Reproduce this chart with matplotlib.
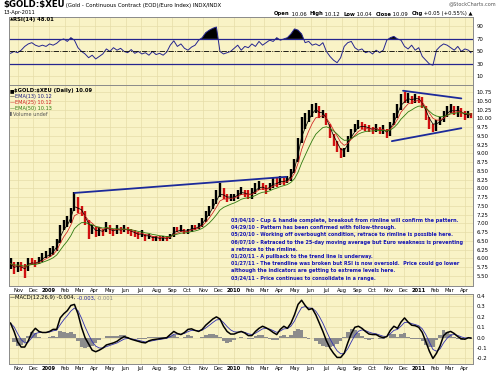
import matplotlib
matplotlib.use('Agg')
import matplotlib.pyplot as plt
import matplotlib.dates as mdates
import numpy as np
import pandas as pd

W, H, DPI = 500, 374, 100

# ---------------- data (weekly) ----------------
week_dates = list(pd.date_range('2008-10-17', '2011-04-08', freq='W-FRI')) + [pd.Timestamp('2011-04-13')]

close = [
    5.85, 5.65, 5.80, 5.75, 5.65, 5.95, 5.90, 5.85, 5.95, 6.05, 6.10,          # Oct-Dec 2008
    6.15, 6.25, 6.45, 6.85, 7.00, 7.05, 7.35, 7.75, 7.40,                     # Jan-Feb 2009
    7.35, 7.05, 6.80, 6.85, 6.70, 6.80, 6.75, 6.95,                           # Mar-Apr
    6.80, 6.75, 6.85, 6.80, 6.85, 6.80, 6.75, 6.70, 6.65,                     # May-Jun
    6.70, 6.60, 6.65, 6.55, 6.60, 6.55, 6.60, 6.55, 6.65,                     # Jul-Aug
    6.85, 6.80, 6.85, 6.75, 6.80, 6.90, 6.85, 6.95, 7.05,                     # Sep-Oct
    7.25, 7.40, 7.60, 7.80, 8.00, 7.80, 7.70, 7.75,                           # Nov-Dec
    7.75, 7.85, 7.95, 7.85, 7.80, 7.85, 8.00, 8.10, 8.05,                     # Jan-Feb 2010
    7.95, 8.05, 8.20, 8.15, 8.25, 8.20, 8.25, 8.45, 8.75,                     # Mar-Apr
    9.30, 9.90, 9.95, 10.15, 10.30, 10.35, 10.10, 10.15,                      # May-Jun
    9.85, 9.55, 9.30, 9.15, 8.95, 9.05, 9.40, 9.65, 9.75,                     # Jul-Aug
    9.85, 9.80, 9.75, 9.70, 9.65, 9.75, 9.60, 9.70, 9.55,                     # Sep-Oct
    9.80, 10.05, 10.30, 10.60, 10.55, 10.65, 10.50, 10.60, 10.55,             # Nov-Dec
    10.35, 10.05, 9.80, 9.70, 9.85, 9.95, 10.10, 10.25,                       # Jan-Feb 2011
    10.30, 10.20, 10.25, 10.15, 10.05, 10.10, 10.09,                          # Mar-Apr
]
high = [
    6.00, 5.90, 5.90, 5.90, 5.85, 6.00, 6.00, 5.95, 6.05, 6.15, 6.20,
    6.30, 6.35, 6.55, 6.95, 7.10, 7.20, 7.45, 7.90, 7.75,
    7.50, 7.35, 7.10, 6.95, 6.90, 6.90, 6.85, 7.05,
    6.95, 6.85, 6.95, 6.90, 6.95, 6.90, 6.85, 6.80, 6.75,
    6.80, 6.70, 6.70, 6.65, 6.65, 6.65, 6.65, 6.65, 6.70,
    6.90, 6.90, 6.95, 6.85, 6.85, 6.95, 6.95, 7.00, 7.15,
    7.35, 7.50, 7.70, 7.95, 8.15, 8.00, 7.85, 7.85,
    7.85, 7.95, 8.05, 7.95, 7.95, 8.00, 8.15, 8.20, 8.15,
    8.10, 8.15, 8.30, 8.30, 8.35, 8.30, 8.35, 8.55, 8.85,
    9.45, 10.05, 10.15, 10.25, 10.40, 10.44, 10.35, 10.25,
    10.15, 9.85, 9.55, 9.35, 9.15, 9.15, 9.50, 9.70, 9.85,
    9.95, 9.90, 9.85, 9.80, 9.75, 9.85, 9.75, 9.80, 9.70,
    9.90, 10.15, 10.40, 10.70, 10.75, 10.72, 10.65, 10.70, 10.65,
    10.60, 10.35, 10.05, 9.85, 9.95, 10.05, 10.20, 10.35,
    10.40, 10.35, 10.35, 10.30, 10.20, 10.20, 10.15,
]
low = [
    5.70, 5.55, 5.60, 5.65, 5.44, 5.65, 5.80, 5.75, 5.85, 5.90, 6.00,
    6.05, 6.10, 6.20, 6.45, 6.80, 6.90, 7.00, 7.35, 7.30,
    7.20, 6.95, 6.55, 6.70, 6.60, 6.65, 6.65, 6.75,
    6.70, 6.65, 6.70, 6.70, 6.75, 6.70, 6.65, 6.60, 6.55,
    6.60, 6.50, 6.55, 6.50, 6.50, 6.50, 6.50, 6.50, 6.55,
    6.60, 6.75, 6.75, 6.70, 6.70, 6.75, 6.80, 6.85, 6.90,
    7.05, 7.20, 7.40, 7.55, 7.75, 7.70, 7.60, 7.65,
    7.65, 7.70, 7.80, 7.75, 7.70, 7.70, 7.85, 7.95, 7.95,
    7.85, 7.95, 8.00, 8.05, 8.10, 8.10, 8.15, 8.20, 8.45,
    8.75, 9.30, 9.70, 9.90, 10.05, 10.15, 10.00, 10.00,
    9.80, 9.45, 9.20, 9.05, 8.88, 8.90, 9.05, 9.40, 9.60,
    9.70, 9.70, 9.65, 9.60, 9.55, 9.60, 9.55, 9.55, 9.45,
    9.50, 9.80, 10.00, 10.25, 10.45, 10.45, 10.40, 10.45, 10.45,
    10.30, 9.95, 9.70, 9.60, 9.65, 9.80, 9.90, 10.05,
    10.15, 10.10, 10.05, 10.05, 9.95, 10.00, 10.00,
]
rsi = [
    47, 50, 48, 52, 58, 62, 64, 60, 58, 60, 58, 62, 60, 63, 68, 70, 66, 72, 68,
    56, 50, 46, 40, 44, 38, 42, 46, 54, 50, 56, 52, 55, 50, 48, 53, 47, 50, 46,
    48, 44, 50, 45, 47, 44, 49, 60, 67, 58, 62, 55, 52, 57, 60, 68,
    72, 80, 84, 87, 89, 50, 46, 48, 50, 55, 60, 52, 58, 56, 62, 58, 66, 60, 64,
    68, 66, 72, 68, 70, 72, 78, 86, 84, 78, 64, 66, 60, 62, 59, 64,
    50, 42, 36, 32, 40, 58, 64, 66, 56, 52, 54, 48, 50, 46, 52, 48,
    52, 68, 72, 74, 70, 68, 58, 54, 60, 52, 56, 42, 36, 30, 28,
    52, 58, 62, 60, 56, 52, 58, 50, 54, 52, 48,
]
macd = [
    0.14, 0.06, -0.04, -0.09, -0.09, -0.03, 0.05, 0.09, 0.06, 0.05, 0.05,
    0.06, 0.08, 0.08, 0.19, 0.23, 0.26, 0.31, 0.32, 0.23,
    0.10, 0.0, -0.06, -0.12, -0.135, -0.12, -0.10, -0.07,
    -0.06, -0.05, -0.035, -0.01, 0.01, 0.0, -0.015, -0.025, -0.035,
    -0.045, -0.05, -0.03, -0.02, -0.015, -0.01, -0.005, 0.0, 0.03,
    0.06, 0.04, 0.03, 0.05, 0.08, 0.085, 0.07, 0.06, 0.08,
    0.12, 0.15, 0.18, 0.20, 0.18, 0.11, 0.06, 0.035,
    0.035, 0.05, 0.06, 0.045, 0.02, 0.02, 0.06, 0.09, 0.11,
    0.095, 0.075, 0.05, 0.03, 0.08, 0.11, 0.09, 0.14, 0.22,
    0.32, 0.36, 0.31, 0.27, 0.28, 0.22, 0.14, 0.06,
    -0.03, -0.10, -0.15, -0.19, -0.19, -0.15, -0.05, 0.04, 0.10,
    0.11, 0.09, 0.06, 0.035, 0.03, 0.03, 0.01, 0.0, 0.01,
    0.07, 0.11, 0.09, 0.15, 0.19, 0.15, 0.12, 0.115, 0.10,
    0.05, -0.04, -0.13, -0.20, -0.15, -0.08, 0.02, 0.05,
    0.06, 0.04, 0.01, -0.01, -0.015, 0.0, -0.004,
]

rim_dates = ['2009-02-20', '2010-04-14']
rim_prices = [7.87, 8.33]
upper_dates = ['2010-11-30', '2011-03-25']
upper_prices = [10.79, 10.57]
lower_dates = ['2010-11-08', '2011-03-25']
lower_prices = [9.35, 9.72]

notes = [
    "03/04/10 - Cup & handle complete, breakout from rimline will confirm the pattern.",
    "04/29/10 - Pattern has been confirmed with follow-through.",
    "05/20/10 - Working off overbought condition, retrace to rimline is possible here.",
    "06/07/10 - Retraced to the 25-day moving average but Euro weakness is preventing",
    "a retrace to the rimline.",
    "01/20/11 - A pullback to the trend line is underway.",
    "01/27/11 - The trendline was broken but RSI is now oversold.  Price could go lower",
    "although the indicators are getting to extreme levels here.",
    "03/24/11 - Price continues to consolidate in a range.",
]

price_ticks = [5.50, 5.75, 6.00, 6.25, 6.50, 6.75, 7.00, 7.25, 7.50, 7.75, 8.00, 8.25,
               8.50, 8.75, 9.00, 9.25, 9.50, 9.75, 10.00, 10.25, 10.50, 10.75]
rsi_ticks = [10, 30, 50, 70, 90]
macd_ticks = [-0.2, -0.1, 0.0, 0.1, 0.2, 0.3, 0.4]

assert len(close) == len(high) == len(low) == len(rsi) == len(macd) == len(week_dates)

# ---------------- derived indicators ----------------
def ema(vals, span_days):
    a_d = 2.0 / (span_days + 1)
    a_w = 1 - (1 - a_d) ** 5          # weekly sampling of a daily EMA
    return pd.Series(vals, dtype=float).ewm(alpha=a_w, adjust=False).mean().values

ema13 = ema(close, 13)
ema25 = ema(close, 25)
ema50 = ema(close, 50)
macd_a = np.array(macd, dtype=float)
signal = pd.Series(macd_a).ewm(alpha=0.45, adjust=False).mean().values
hist = macd_a - signal

xd = mdates.date2num(pd.DatetimeIndex(week_dates).to_pydatetime())

# ---------------- figure ----------------
plt.rcParams['font.family'] = ['DejaVu Sans']
fig = plt.figure(figsize=(W / DPI, H / DPI), dpi=DPI)
fig.patch.set_facecolor('white')

BG = '#F9F3C6'
GRID = '#E6DDA8'
FRAME = '#8A8A8A'
NAVY = '#25258F'

def px_axes(left, top, right, bottom):
    return fig.add_axes([left / W, 1 - bottom / H, (right - left) / W, (bottom - top) / H])

ax_rsi = px_axes(9, 17, 473, 85)
ax_pr = px_axes(9, 85, 473, 286)
ax_m = px_axes(9, 294, 473, 364)

x0 = mdates.date2num(pd.Timestamp('2008-10-14'))
x1 = mdates.date2num(pd.Timestamp('2011-04-17'))

months = pd.date_range('2008-11-01', '2011-04-01', freq='MS')
mnum = mdates.date2num(months.to_pydatetime())
mlab = [str(m.year) if m.month == 1 else m.strftime('%b') for m in months]

for ax in (ax_rsi, ax_pr, ax_m):
    ax.set_facecolor(BG)
    ax.set_xlim(x0, x1)
    for s in ax.spines.values():
        s.set_color(FRAME)
        s.set_linewidth(0.7)
    ax.yaxis.tick_right()
    ax.tick_params(axis='both', length=0, labelsize=3.9, pad=2.5, colors='black')
    ax.set_xticks(mnum)
    ax.grid(True, color=GRID, lw=0.5)
    ax.set_axisbelow(True)

ax_rsi.set_xticklabels([])
for ax in (ax_pr, ax_m):
    ax.set_xticklabels(mlab)
    for t, m in zip(ax.get_xticklabels(), months):
        t.set_fontsize(3.7)
        if m.month == 1:
            t.set_fontweight('bold')
    ax.tick_params(axis='x', pad=1.5)

# ---- RSI panel ----
ax_rsi.set_ylim(-3.6, 105)
ax_rsi.set_yticks(rsi_ticks)
ax_rsi.plot(xd, rsi, color=NAVY, lw=0.7)
r = np.array(rsi, dtype=float)
ax_rsi.fill_between(xd, 70, r, where=r > 70, interpolate=True, color='black', lw=0)
ax_rsi.axhline(70, color=NAVY, lw=0.9)
ax_rsi.axhline(30, color=NAVY, lw=0.9)
ax_rsi.axhline(50, color='black', lw=0.6, ls='-.')

# ---- price panel ----
ax_pr.set_ylim(5.211, 10.954)
ax_pr.set_yticks(price_ticks)
ax_pr.set_yticklabels(['%.2f' % v for v in price_ticks])
prev = [close[0]] + close[:-1]
cols = ['black' if c >= p else '#D01010' for c, p in zip(close, prev)]
ax_pr.vlines(xd, low, high, colors=cols, lw=1.7)
ax_pr.plot(xd, ema13, color='black', lw=0.55)
ax_pr.plot(xd, ema25, color='#D02020', lw=0.55)
ax_pr.plot(xd, ema50, color='#2F7A10', lw=0.6)
for d, p in ((rim_dates, rim_prices), (upper_dates, upper_prices), (lower_dates, lower_prices)):
    ax_pr.plot(mdates.date2num(pd.DatetimeIndex(d).to_pydatetime()), p, color='#1C2A9A', lw=1.3,
               solid_capstyle='round')

# ---- MACD panel ----
ax_m.set_ylim(-0.253, 0.420)
ax_m.set_yticks(macd_ticks)
ax_m.set_yticklabels(['%.1f' % v for v in macd_ticks])
ax_m.bar(xd, hist, width=7, color='#8C8C8C', lw=0)
ax_m.plot(xd, signal, color='#3030B0', lw=0.6)
ax_m.plot(xd, macd_a, color='black', lw=1.1)

# ---------------- texts ----------------
fig.canvas.draw()
renderer = fig.canvas.get_renderer()

def seq(x_px, y_px, pieces):
    x = x_px
    for s, kw in pieces:
        t = fig.text(x / W, 1 - y_px / H, s, ha='left', va='center', **kw)
        x += t.get_window_extent(renderer).width

seq(3, 5, [(r'\$GOLD:\$XEU', dict(fontsize=6.2, fontweight='bold')),
           (' (Gold - Continuous Contract (EOD)/Euro Index) INDX/INDX', dict(fontsize=3.9))])
fig.text(3 / W, 1 - 12.5 / H, '13-Apr-2011', fontsize=3.7, ha='left', va='center')
fig.text(496 / W, 1 - 4 / H, '@StockCharts.com', fontsize=3.6, ha='right', va='center', color='#555555')
seq(274, 14, [('Open', dict(fontsize=3.8, fontweight='bold')), (' 10.06  ', dict(fontsize=3.8)),
              ('High', dict(fontsize=3.8, fontweight='bold')), (' 10.12  ', dict(fontsize=3.8)),
              ('Low', dict(fontsize=3.8, fontweight='bold')), (' 10.04  ', dict(fontsize=3.8)),
              ('Close', dict(fontsize=3.8, fontweight='bold')), (' 10.09  ', dict(fontsize=3.8)),
              ('Chg', dict(fontsize=3.8, fontweight='bold')), (' +0.05 (+0.55%) \u25B2', dict(fontsize=3.8))])

seq(10, 19.5, [('\u25B2', dict(fontsize=3.2)), ('RSI(14) 48.01', dict(fontsize=3.8, fontweight='bold'))])

seq(10, 90.5, [('\u25A0', dict(fontsize=3.4)), (r'\$GOLD:\$XEU (Daily) 10.09', dict(fontsize=3.8, fontweight='bold'))])
seq(10, 96.5, [('\u2014', dict(fontsize=3.6, color='black')), ('EMA(13) 10.12', dict(fontsize=3.6, color='#1C1C80'))])
seq(10, 102.5, [('\u2014', dict(fontsize=3.6, color='#D02020')), ('EMA(25) 10.12', dict(fontsize=3.6, color='#D02020'))])
seq(10, 108.5, [('\u2014', dict(fontsize=3.6, color='#2F7A10')), ('EMA(50) 10.13', dict(fontsize=3.6, color='#2F7A10'))])
seq(10, 114, [('\u258C', dict(fontsize=3.2, color='#666666')), ('Volume undef', dict(fontsize=3.6, color='#555555'))])

for i, line in enumerate(notes):
    fig.text(231 / W, 1 - (220.5 + 7.2 * i) / H, line, fontsize=3.55, color='#1515B5',
             fontweight='bold', ha='left', va='center')

seq(10, 298, [('\u2014', dict(fontsize=3.6, color='black')),
              ('MACD(12,26,9) -0.004, ', dict(fontsize=3.8, color='black')),
              ('-0.003, ', dict(fontsize=3.8, color='#2020A0')),
              ('-0.001', dict(fontsize=3.8, color='#888888'))])

fig.savefig('out.png', dpi=DPI, facecolor='white')
